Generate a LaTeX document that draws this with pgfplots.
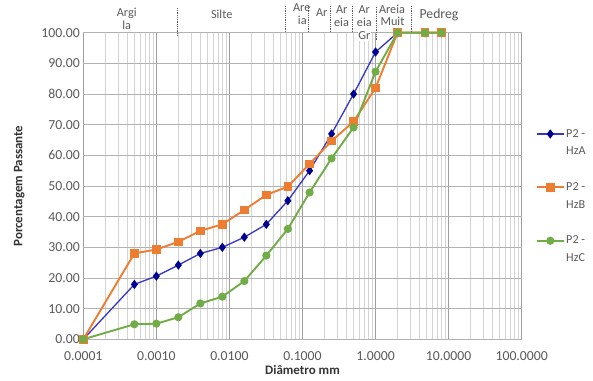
\documentclass[border=0pt]{standalone}
\usepackage{fontspec}
\setmainfont{Carlito}
\usepackage{pgfplots}
\pgfplotsset{compat=1.18}
\definecolor{cA}{HTML}{3535C8}
\definecolor{cAm}{HTML}{000090}
\definecolor{cB}{HTML}{ED7D31}
\definecolor{cC}{HTML}{70AD47}
\definecolor{txt}{HTML}{595959}
\newcommand\lentry[2]{\rlap{\raisebox{-17.5bp}[0pt][0pt]{#2}}#1}
\begin{document}
\begin{tikzpicture}
\useasboundingbox (0bp,0bp) rectangle (593bp,381bp);
\begin{axis}[
  at={(83.3bp,41.7bp)}, anchor=south west,
  scale only axis, width=438.4bp, height=306.6bp,
  xmode=log, log basis x=10,
  xmin=0.0001, xmax=100, ymin=0, ymax=100,
  xtick={0.0001,0.001,0.01,0.1,1,10,100},
  xticklabels={0.0001,0.0010,0.0100,0.1000,1.0000,10.0000,100.0000},
  minor xtick={2e-4,3e-4,4e-4,5e-4,6e-4,7e-4,8e-4,9e-4,
               2e-3,3e-3,4e-3,5e-3,6e-3,7e-3,8e-3,9e-3,
               2e-2,3e-2,4e-2,5e-2,6e-2,7e-2,8e-2,9e-2,
               0.2,0.3,0.4,0.5,0.6,0.7,0.8,0.9,
               2,3,4,5,6,7,8,9,20,30,40,50,60,70,80,90},
  ytick={0,10,...,100},
  yticklabel={\pgfmathprintnumber[fixed,fixed zerofill,precision=2]{\tick}},
  /pgf/number format/assume math mode=true,
  grid=both,
  major x grid style={draw=black!38, line width=0.6bp},
  minor x grid style={draw=black!17, line width=0.6bp},
  major y grid style={draw=black!30, line width=0.6bp},
  axis line style={draw=none},
  tick style={draw=none},
  tick label style={font=\fontsize{13.8}{15}\selectfont, text=txt},
  xticklabel style={yshift=-9bp},
  xlabel={\textbf{Diâmetro mm}},
  ylabel={\textbf{Porcentagem Passante}},
  label style={font=\fontsize{13}{15}\selectfont, text=black!80},
  xlabel style={yshift=2bp},
  ylabel style={yshift=10bp},
  clip=false,
  legend image code/.code={\draw[mark repeat=2,mark phase=2,#1] plot coordinates {(0bp,0bp) (13.5bp,0bp) (27bp,0bp)};},
  legend style={at={(axis description cs:1.025,0.697)}, anchor=north west,
    draw=none, fill=none, font=\fontsize{12.2}{15}\selectfont, text=txt,
    row sep=41bp, nodes={inner sep=1.5bp}},
  legend cell align=left,
]
\addplot[cA, line width=1.3bp, mark=diamond*, mark size=3.6bp, mark options={fill=cAm, draw=cAm}] coordinates {
(0.0001,0) (0.0005,17.9) (0.001,20.6) (0.002,24.2) (0.004,28.0) (0.008,30.0) (0.016,33.3) (0.032,37.5) (0.063,45.2) (0.125,55.0) (0.25,67.0) (0.5,80.0) (1,93.7) (2,100) (4.75,100) (8,100)};
\addlegendentry{\lentry{P2 -}{HzA}}
\addplot[cB, line width=1.9bp, mark=square*, mark size=3.3bp, mark options={fill=cB, draw=cB}] coordinates {
(0.0001,0) (0.0005,28.0) (0.001,29.3) (0.002,31.8) (0.004,35.4) (0.008,37.5) (0.016,42.2) (0.032,47.1) (0.063,49.8) (0.125,57.2) (0.25,64.7) (0.5,71.0) (1,82.0) (2,100) (4.75,100) (8,100)};
\addlegendentry{\lentry{P2 -}{HzB}}
\addplot[cC, line width=1.9bp, mark=*, mark size=3.1bp, mark options={fill=cC, draw=cC}] coordinates {
(0.0001,0) (0.0005,4.9) (0.001,5.1) (0.002,7.2) (0.004,11.7) (0.008,13.9) (0.016,19.0) (0.032,27.3) (0.063,36.0) (0.125,47.9) (0.25,59.0) (0.5,69.1) (1,87.3) (2,100) (4.75,100) (8,100)};
\addlegendentry{\lentry{P2 -}{HzC}}
\end{axis}
% soil class annotations (picture coordinates in px from top-left)
\begin{scope}[x=1bp, y=1bp, every node/.style={font=\fontsize{12.3}{13}\selectfont, text=txt, inner sep=0.5bp, text height=8bp, text depth=2bp}]
\foreach \xx/\ya/\yb in {177.7/8/35, 285/6/32, 308.3/6/32, 330/6/32, 352.7/6/32, 376/7/40, 411.7/6/32}
  \draw[black!65, densely dotted, line width=0.8bp] (\xx,381-\ya) -- (\xx,381-\yb);
\node at (126.7,381-13.3) {Argi};
\node at (126.7,381-26) {la};
\node at (221.7,381-15) {Silte};
\node at (301.7,381-8.5) {Are};
\node at (302.3,381-21) {ia};
\node at (321.7,381-13.3) {Ar};
\node at (341.7,381-10) {Ar};
\node at (341.5,381-23.3) {eia};
\node at (364.3,381-10) {Ar};
\node at (364.3,381-23.3) {eia};
\node[fill=white] at (364.3,381-36) {Gr};
\node at (392,381-10) {Areia};
\node at (392.5,381-22.7) {Muit};
\node[font=\fontsize{13.8}{15}\selectfont] at (439,381-15) {Pedreg};
\end{scope}
\end{tikzpicture}
\end{document}
